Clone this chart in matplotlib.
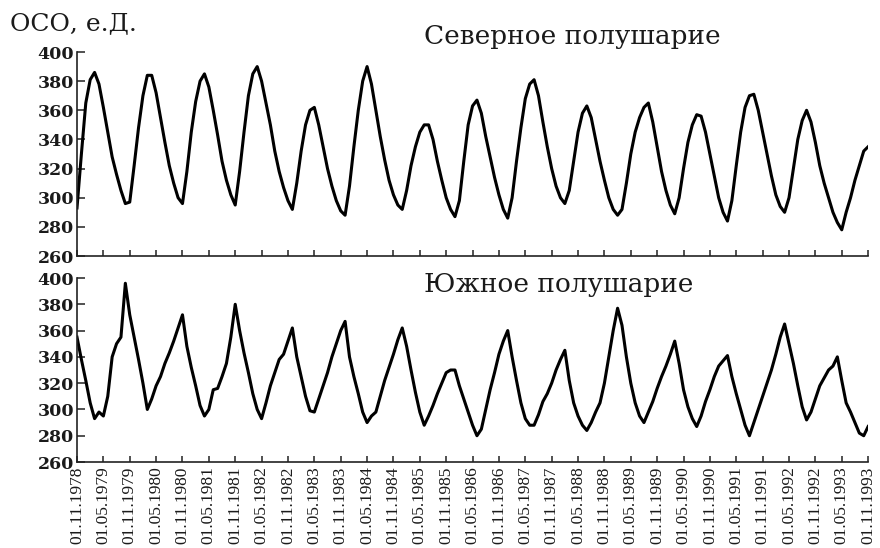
import numpy as np
import matplotlib
matplotlib.use('Agg')
import matplotlib.pyplot as plt

# monthly total ozone, Dobson units, starting 01.11.1978 (one row per 12 months)
north = [
    293, 330, 365, 381, 386, 378, 362, 345, 328, 316, 305, 296,
    297, 322, 348, 370, 384, 384, 372, 355, 338, 322, 310, 300,
    296, 318, 345, 366, 380, 385, 376, 360, 343, 325, 312, 302,
    295, 318, 345, 370, 385, 390, 380, 365, 350, 332, 318, 307,
    298, 292, 310, 332, 350, 360, 362, 350, 335, 320, 308, 298,
    291, 288, 308, 335, 360, 380, 390, 378, 360, 342, 326, 312,
    302, 295, 292, 305, 322, 335, 345, 350, 350, 340, 325, 312,
    300, 292, 287, 298, 325, 350, 363, 367, 358, 342, 328, 314,
    302, 292, 286, 300, 325, 348, 368, 378, 381, 370, 352, 335,
    320, 308, 300, 296, 305, 325, 345, 358, 363, 355, 340, 325,
    312, 300, 292, 288, 292, 310, 330, 345, 355, 362, 365, 352,
    335, 318, 305, 295, 289, 300, 320, 338, 350, 357, 356, 345,
    330, 315, 300, 290, 284, 298, 322, 345, 362, 370, 371, 360,
    345, 330, 315, 302, 294, 290, 300, 320, 340, 353, 360, 352,
    338, 322, 310, 300, 290, 283, 278, 290, 300, 312, 322, 332,
    335,
]

south = [
    355, 338, 322, 305, 293, 298, 295, 310, 340, 350, 355, 396,
    372, 355, 338, 320, 300, 308, 318, 325, 335, 343, 352, 362,
    372, 348, 332, 318, 303, 295, 300, 315, 316, 325, 335, 355,
    380, 360, 343, 328, 312, 300, 293, 305, 318, 328, 338, 342,
    352, 362, 340, 325, 310, 299, 298, 308, 318, 328, 340, 350,
    360, 367, 340, 325, 312, 298, 290, 295, 298, 310, 322, 332,
    342, 353, 362, 348, 330, 313, 298, 288, 295, 303, 312, 320,
    328, 330, 330, 318, 308, 298, 288, 280, 285, 300, 315, 328,
    342, 352, 360, 340, 322, 305, 293, 288, 288, 296, 306, 312,
    320, 330, 338, 345, 322, 305, 295, 288, 284, 290, 298, 305,
    320, 340, 360, 377, 364, 340, 320, 305, 295, 290, 298, 306,
    316, 325, 333, 342, 352, 335, 315, 302, 293, 287, 295, 306,
    315, 325, 333, 337, 341, 325, 312, 300, 288, 280, 290, 300,
    310, 320, 330, 342, 355, 365, 350, 335, 318, 302, 292, 298,
    308, 318, 324, 330, 333, 340, 322, 305, 298, 290, 282, 280,
    287,
]

date_labels = [
    '01.11.1978', '01.05.1979', '01.11.1979', '01.05.1980', '01.11.1980',
    '01.05.1981', '01.11.1981', '01.05.1982', '01.11.1982', '01.05.1983',
    '01.11.1983', '01.05.1984', '01.11.1984', '01.05.1985', '01.11.1985',
    '01.05.1986', '01.11.1986', '01.05.1987', '01.11.1987', '01.05.1988',
    '01.11.1988', '01.05.1989', '01.11.1989', '01.05.1990', '01.11.1990',
    '01.05.1991', '01.11.1991', '01.05.1992', '01.11.1992', '01.05.1993',
    '01.11.1993',
]

y_ticks = [260, 280, 300, 320, 340, 360, 380, 400]
titles = ['Северное полушарие', 'Южное полушарие']


def style_axis(ax):
    ax.spines['top'].set_visible(False)
    ax.spines['right'].set_visible(False)
    for s in ('left', 'bottom'):
        ax.spines[s].set_linewidth(1.2)
        ax.spines[s].set_color('#222222')
    ax.set_xlim(0, 180)
    ax.set_ylim(260, 400)
    ax.set_yticks(y_ticks)
    ax.set_xticks(np.arange(len(date_labels)) * 6)
    ax.tick_params(axis='y', direction='in', length=6, width=1.1, pad=2,
                   labelsize=12.5, color='#222222')
    ax.tick_params(axis='x', direction='in', length=4, width=1.1, pad=3,
                   color='#222222')
    for lab in ax.get_yticklabels():
        lab.set_family('DejaVu Serif')
        lab.set_weight('bold')
        lab.set_color('#1a1a1a')


def main():
    fig = plt.figure(figsize=(8.8, 5.48), dpi=100)
    ax1 = fig.add_axes([0.0875, 0.5328, 0.899, 0.3723])
    ax2 = fig.add_axes([0.0875, 0.1569, 0.899, 0.3358])

    months = np.arange(len(north))
    ax1.plot(months, north, color='black', lw=2.2)
    ax2.plot(months, south, color='black', lw=2.2)

    for ax in (ax1, ax2):
        style_axis(ax)

    ax1.set_xticklabels([])
    ax2.set_xticklabels(date_labels, rotation=90, family='Liberation Serif',
                        fontsize=12.5, color='#1a1a1a')

    ax1.text(0.626, 1.075, titles[0], transform=ax1.transAxes, ha='center',
             va='center', family='DejaVu Serif', fontsize=19, color='#1a1a1a')
    ax2.text(0.609, 0.962, titles[1], transform=ax2.transAxes, ha='center',
             va='center', family='DejaVu Serif', fontsize=19, color='#1a1a1a')
    fig.text(10 / 880, 1 - 24 / 548, 'ОСО, е.Д.', ha='left', va='center',
             family='DejaVu Serif', fontsize=18, color='#1a1a1a')

    fig.savefig('out.png', dpi=100)


if __name__ == '__main__':
    main()
